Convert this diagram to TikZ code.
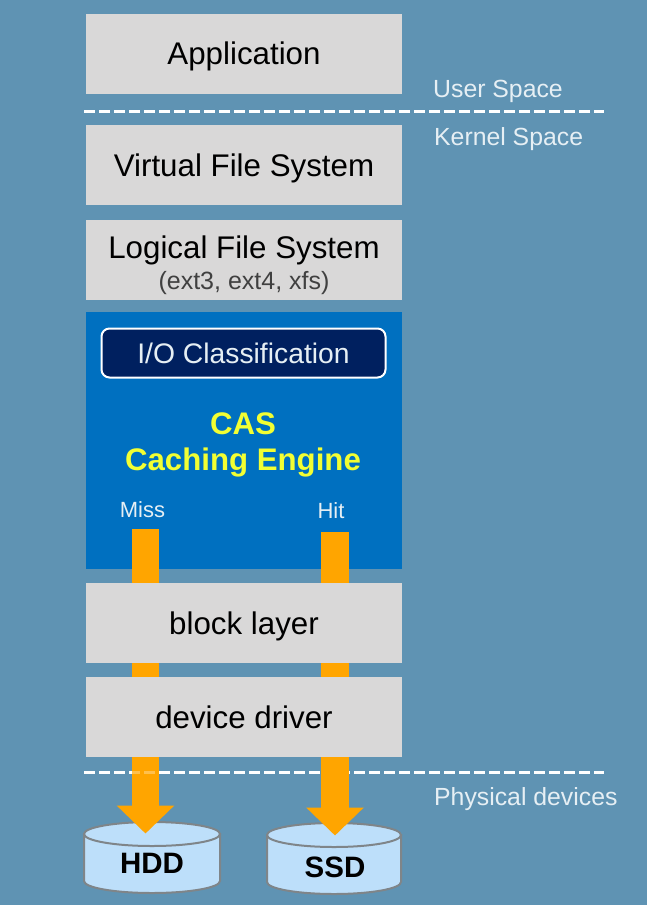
\documentclass[tikz,border=0pt]{standalone}
\usepackage{fontspec}
\setmainfont{Liberation Sans}
\usetikzlibrary{arrows.meta,positioning}
\definecolor{bgc}{HTML}{5F93B3}
\definecolor{grayc}{HTML}{D9D8D8}
\definecolor{bluec}{HTML}{0070C0}
\definecolor{navyc}{HTML}{00205F}
\definecolor{cylc}{HTML}{BDDFFA}
\definecolor{orangec}{HTML}{FFA500}
\definecolor{yellowc}{HTML}{F2FF33}
\definecolor{labelc}{HTML}{E6EFF4}
\definecolor{edgec}{HTML}{7F8589}
\newcommand{\fs}[1]{\fontsize{#1}{#1}\selectfont}
\tikzset{
  layerbox/.style={draw=none,fill=grayc,minimum width=316pt,minimum height=80pt,inner sep=0pt,text=black,font=\fs{31.3},anchor=center,text height=28pt,text depth=6pt},
  sidelabel/.style={text=labelc,font=\fs{24.8},inner sep=0pt,anchor=west},
  divider/.style={draw=white,line width=3pt,dash pattern=on 11pt off 4pt},
  flow/.style={draw=orangec,line width=27.5pt,-{Triangle[width=56pt,length=28pt,fill=orangec]}},
  cyl/.style={draw=edgec,line width=2pt,fill=cylc},
  cyltext/.style={text=black,font=\fs{29.5}\bfseries,inner sep=0pt},
}
\begin{document}
\begin{tikzpicture}[x=1pt,y=-1pt]
\useasboundingbox (0,0) rectangle (647,905);
\fill[bgc] (0,0) rectangle (647,905);
% dividers
\coordinate (d1a) at (84,111); \coordinate (d1b) at (604,111);
\coordinate (d2a) at (84,772); \coordinate (d2b) at (604,772);
\draw[divider] (d1a) -- (d1b);
\draw[divider] (d2a) -- (d2b);
% engine
\node[fill=bluec,minimum width=316pt,minimum height=257pt,inner sep=0pt] (engine) at (244,440.5) {};
\node[draw=white,line width=2pt,fill=navyc,rounded corners=8pt,minimum width=284pt,minimum height=49pt,inner sep=0pt,text=labelc,font=\fs{28.3}] (io) at (243.5,353) {I/O Classification};
\node[text=yellowc,font=\fs{31.2}\bfseries,inner sep=0pt] (cas) at (243,423.5) {CAS};
\node[text=yellowc,font=\fs{31.2}\bfseries,inner sep=0pt] (cache) at (243,462) {Caching Engine};
\node[text=labelc,font=\fs{22},inner sep=0pt] (miss) at (142.5,510) {Miss};
\node[text=labelc,font=\fs{22},inner sep=0pt] (hit) at (331,511) {Hit};
% disks
\draw[cyl] (84,834) -- (84,881) arc[start angle=180,end angle=360,x radius=68pt,y radius=12pt] -- (220,834) -- cycle;
\draw[cyl] (152,834) ellipse[x radius=68pt,y radius=12pt];
\draw[cyl] (267,835) -- (267,882) arc[start angle=180,end angle=360,x radius=67pt,y radius=12pt] -- (401,835) -- cycle;
\draw[cyl] (334,835) ellipse[x radius=67pt,y radius=12pt];
\node[cyltext] (hdd) at (152,863) {HDD};
\node[cyltext] (ssd) at (335,867) {SSD};
\coordinate (hddtop) at (145.5,833.5);
\coordinate (ssdtop) at (335,835.5);
\coordinate (missstart) at (145.5,529);
\coordinate (hitstart) at (335,532);
% arrows
\draw[flow] (missstart) -- (hddtop);
\draw[flow] (hitstart) -- (ssdtop);
\begin{scope}
\clip (132,765) rectangle (159,780);
\draw[divider,opacity=.3] (d2a) -- (d2b);
\end{scope}
% layers
\node[layerbox] (app) at (244,53.5) {Application};
\node[layerbox] (vfs) at (244,165) {Virtual File System};
\node[layerbox] (lfs) at (244,260) {};
\node[text=black,font=\fs{31.3},inner sep=0pt] (lfst) at (244,250) {Logical File System};
\node[text=black!75,font=\fs{25},inner sep=0pt] (lfss) at (244,283) {(ext3, ext4, xfs)};
\node[layerbox] (block) at (244,623) {block layer};
\node[layerbox] (driver) at (244,717) {device driver};
% side labels
\node[sidelabel] (user) at (433,91) {User Space};
\node[sidelabel] (kernel) at (434,139) {Kernel Space};
\node[sidelabel] (phys) at (434,799) {Physical devices};
\end{tikzpicture}
\end{document}
